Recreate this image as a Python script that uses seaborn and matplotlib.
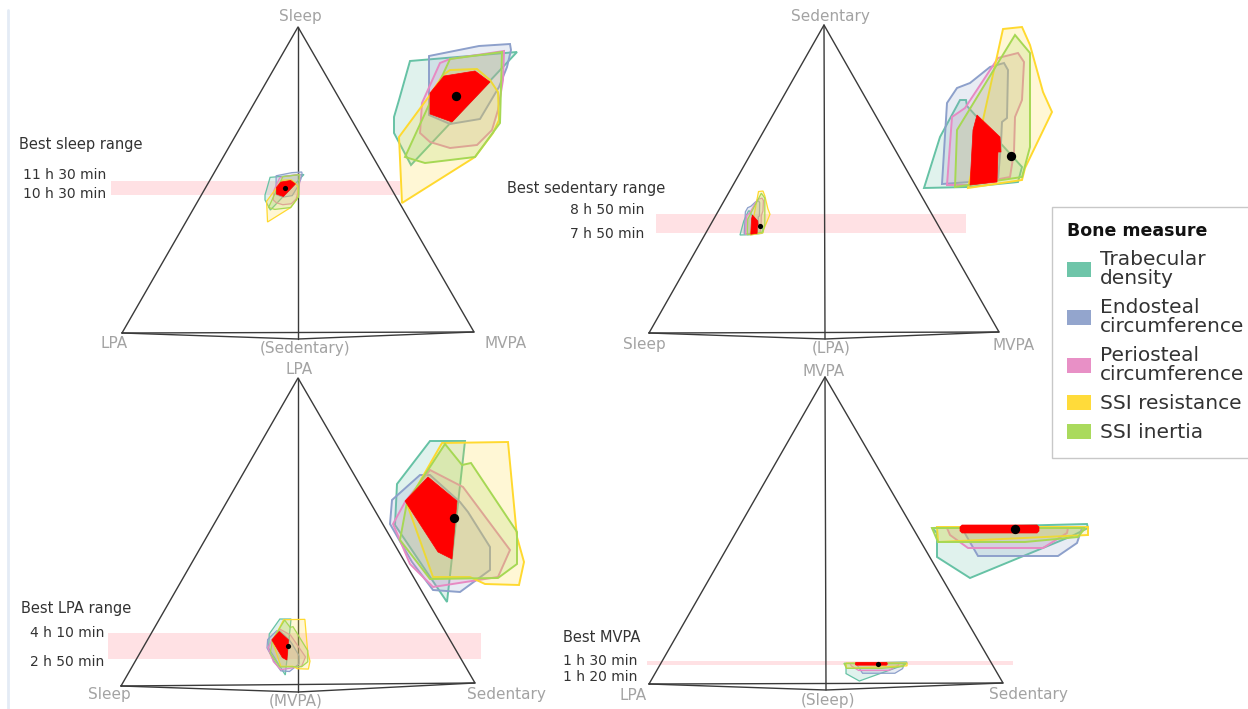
#!/usr/bin/env python3
"""
Four ternary-style panels of bone-measure regions with zoomed insets
"""

import numpy as np
import matplotlib
matplotlib.use("Agg")
import matplotlib.pyplot as plt
from matplotlib.patches import Patch
import seaborn as sns

sns.set_theme(style="white")
plt.rcParams["font.family"] = ["DejaVu Sans"]

W, H = 1248, 709

# ---- data ----
measures = ["Trabecular\ndensity", "Endosteal\ncircumference",
            "Periosteal\ncircumference", "SSI resistance", "SSI inertia"]

# region outlines, in zoomed units around the best point (0, 0), y downwards
# panel 1: sleep
sleep_trabecular = [(-46, -35), (61, -44), (-45, 69), (-62, 37), (-62, 21), (-57, 4)]
sleep_endosteal = [(-27, -40), (23, -50), (54, -52), (55, -46), (51, -29), (43, -9),
                   (24, 23), (-6, 28), (-27, 19)]
sleep_periosteal = [(-16, -33), (-6, -37), (48, -45), (47, -16), (42, 14), (36, 34),
                    (21, 49), (-6, 52), (-26, 46), (-36, 37), (-34, 7)]
sleep_resistance = [(-54, 107), (-57, 41), (-26, -1), (-13, -21), (-6, -26), (21, -27),
                    (34, -16), (42, -4), (43, 24), (37, 37), (19, 61)]
sleep_inertia = [(-6, -37), (46, -44), (44, 27), (19, 61), (-31, 67), (-51, 61)]
sleep_best = [(-26, -3), (-12, -20), (19, -25), (34, -14), (-4, 26), (-26, 18)]

# panel 2: sedentary
sed_trabecular = [(-87, 32), (-71, -19), (-51, -56), (-45, -56), (-44, -50), (11, 11),
                  (7, 26), (-43, 31)]
sed_endosteal = [(-69, 28), (-64, -53), (-54, -68), (-41, -73), (-21, -89), (-7, -93),
                 (-3, -86), (-4, -38), (-9, -34), (-10, -13), (-13, 24)]
sed_periosteal = [(-64, 29), (-59, -39), (-46, -48), (-13, -98), (7, -103), (13, -94),
                  (11, -56), (4, -39), (3, -4), (-1, 21), (-43, 29)]
sed_resistance = [(-43, 32), (-8, -127), (11, -129), (19, -111), (32, -64), (41, -44),
                  (14, 12), (11, 24)]
sed_inertia = [(-56, 31), (-54, -26), (4, -121), (19, -103), (19, -9), (11, 21)]
sed_best = [(-41, 29), (-38, -26), (-34, -41), (-11, -19), (-10, -4), (-13, -4), (-14, 26)]

# panel 3: LPA
lpa_trabecular = [(-24, -77), (11, -77), (-7, 84), (-59, 7), (-57, -34)]
lpa_endosteal = [(-62, -18), (-34, -43), (-24, -43), (6, -16), (14, -6), (36, 29),
                 (36, 52), (6, 74), (-21, 72), (-42, 44), (-64, 6)]
lpa_periosteal = [(-24, -48), (9, -31), (56, 32), (44, 59), (-21, 69), (-44, 46),
                  (-61, 6), (-49, -16)]
lpa_resistance = [(-12, -75), (54, -76), (63, 19), (70, 44), (65, 67), (31, 66),
                  (16, 59), (-21, 59), (-47, -14)]
lpa_inertia = [(-9, -74), (8, -53), (17, -55), (63, 14), (63, 46), (44, 60), (-24, 61),
               (-54, 22), (-47, -16)]
lpa_best = [(-49, -17), (-26, -41), (3, -17), (-2, 41), (-16, 34)]

# panel 4: MVPA
mvpa_trabecular = [(-83, -1), (72, -5), (73, -1), (57, 7), (-45, 49), (-78, 28), (-78, 4)]
mvpa_endosteal = [(-53, -1), (67, -1), (62, 14), (43, 27), (-37, 27), (-48, 8)]
mvpa_periosteal = [(-68, -1), (53, -1), (52, 4), (28, 19), (-47, 19), (-65, 6)]
mvpa_resistance = [(-78, -2), (73, -2), (73, 6), (-77, 13)]
mvpa_inertia = [(-83, -1), (70, -1), (63, 8), (10, 13), (-77, 13)]
mvpa_best = [(-55, -2), (-53, -4), (22, -4), (24, -2), (24, 2), (22, 4), (-53, 4), (-55, 2)]

sleep_labels = ["Sleep", "LPA", "(Sedentary)", "MVPA"]
sed_labels = ["Sedentary", "Sleep", "(LPA)", "MVPA"]
lpa_labels = ["LPA", "Sleep", "(MVPA)", "Sedentary"]
mvpa_labels = ["MVPA", "LPA", "(Sleep)", "Sedentary"]

sleep_range = ["Best sleep range", "11 h 30 min", "10 h 30 min"]
sed_range = ["Best sedentary range", "8 h 50 min", "7 h 50 min"]
lpa_range = ["Best LPA range", "4 h 10 min", "2 h 50 min"]
mvpa_range = ["Best MVPA", "1 h 30 min", "1 h 20 min"]

# ---- layout (pixels) ----
panels = [
    dict(polys=[sleep_trabecular, sleep_endosteal, sleep_periosteal, sleep_resistance, sleep_inertia],
         best=sleep_best, labels=sleep_labels, rng=sleep_range,
         apex=(298, 27), left=(122, 333), right=(474, 332), bottom=(298, 339),
         lab_pos=[(300, 17), (114, 344), (305, 348), (506, 344)],
         band=(111, 181, 400, 195), title_xy=(19, 145), rng_x=106, rng_y=(175, 194),
         inset_at=(456, 96), small=(265, 172, 304, 222)),
    dict(polys=[sed_trabecular, sed_endosteal, sed_periosteal, sed_resistance, sed_inertia],
         best=sed_best, labels=sed_labels, rng=sed_range,
         apex=(824, 25), left=(649, 333), right=(999, 332), bottom=(825, 339),
         lab_pos=[(830, 17), (644, 345), (831, 348), (1014, 345)],
         band=(656, 214, 966, 233), title_xy=(507, 189), rng_x=644, rng_y=(210, 234),
         inset_at=(1011, 156), small=(740, 191, 770, 235)),
    dict(polys=[lpa_trabecular, lpa_endosteal, lpa_periosteal, lpa_resistance, lpa_inertia],
         best=lpa_best, labels=lpa_labels, rng=lpa_range,
         apex=(298, 378), left=(121, 686), right=(475, 683), bottom=(298, 692),
         lab_pos=[(299, 370), (109, 694), (296, 701), (506, 694)],
         band=(108, 633, 481, 659), title_xy=(21, 608), rng_x=104, rng_y=(633, 662),
         inset_at=(454, 518), small=(267, 619, 310, 675)),
    dict(polys=[mvpa_trabecular, mvpa_endosteal, mvpa_periosteal, mvpa_resistance, mvpa_inertia],
         best=mvpa_best, labels=mvpa_labels, rng=mvpa_range,
         apex=(825, 377), left=(649, 684), right=(1003, 683), bottom=(826, 690),
         lab_pos=[(824, 372), (633, 695), (828, 700), (1028, 695)],
         band=(647, 661, 1013, 665), title_xy=(563, 637), rng_x=637, rng_y=(661, 677),
         inset_at=(1015, 529), small=(844, 662, 907, 681)),
]

palette = sns.color_palette("Set2")
measure_colors = [palette[0], palette[2], palette[3], palette[5], palette[4]]
line_col = "#3a3a3a"
axis_lab_col = "#a3a3a3"
text_col = "#333333"


def px_rect(x0, y0, x1, y1):
    return [x0 / W, 1 - y1 / H, (x1 - x0) / W, (y1 - y0) / H]


def draw_cluster(fig, rect, polys, best, lims, lw, dot):
    ax = fig.add_axes(rect)
    ax.set_xlim(lims[0], lims[1])
    ax.set_ylim(lims[3], lims[2])
    ax.set_axis_off()
    for verts, c in zip(polys, measure_colors):
        v = np.array(verts, dtype=float)
        ax.fill(v[:, 0], v[:, 1], facecolor=(*c, 0.2), edgecolor=c, lw=lw, clip_on=False)
    b = np.array(best, dtype=float)
    ax.fill(b[:, 0], b[:, 1], facecolor="red", edgecolor="red", lw=0.5,
            clip_on=False, zorder=4)
    sns.scatterplot(x=[0], y=[0], color="black", s=dot, linewidth=0, ax=ax,
                    legend=False, zorder=5, clip_on=False)
    return ax


fig = plt.figure(figsize=(W / 100, H / 100), dpi=100)
fig.patch.set_facecolor("white")
main = fig.add_axes([0, 0, 1, 1])
main.set_xlim(0, W)
main.set_ylim(H, 0)
main.set_axis_off()

main.plot([8, 8], [10, H], color="#e4ebf5", lw=2)

for p in panels:
    ax_, ay = p["apex"]
    lx, ly = p["left"]
    rx, ry = p["right"]
    bx, by = p["bottom"]
    bx0, by0, bx1, by1 = p["band"]
    main.fill([bx0, bx1, bx1, bx0], [by0, by0, by1, by1], color="#ffe1e4", lw=0, zorder=1)
    main.plot([lx, ax_, rx, lx], [ly, ay, ry, ly], color=line_col, lw=1.0, zorder=2)
    main.plot([ax_, bx], [ay, by], color=line_col, lw=1.0, zorder=2)
    main.plot([lx, bx, rx], [ly, by, ry], color=line_col, lw=1.0, zorder=2)

    for lab, (tx, ty) in zip(p["labels"], p["lab_pos"]):
        main.text(tx, ty, lab, ha="center", va="center", fontsize=11, color=axis_lab_col)

    tx, ty = p["title_xy"]
    main.text(tx, ty, p["rng"][0], ha="left", va="center", fontsize=10.5, color=text_col)
    main.text(p["rng_x"], p["rng_y"][0], p["rng"][1], ha="right", va="center", fontsize=10, color=text_col)
    main.text(p["rng_x"], p["rng_y"][1], p["rng"][2], ha="right", va="center", fontsize=10, color=text_col)

    allv = np.array([v for poly in p["polys"] + [p["best"]] for v in poly], dtype=float)
    lims = (allv[:, 0].min(), allv[:, 0].max(), allv[:, 1].min(), allv[:, 1].max())

    # small cluster inside the triangle
    draw_cluster(fig, px_rect(*p["small"]), p["polys"], p["best"], lims, 0.9, 14)
    # zoomed inset
    ix, iy = p["inset_at"]
    draw_cluster(fig, px_rect(ix + lims[0], iy + lims[2], ix + lims[1], iy + lims[3]),
                 p["polys"], p["best"], lims, 1.4, 45)

handles = [Patch(facecolor=c, edgecolor="none", alpha=0.95) for c in measure_colors]
leg = fig.legend(handles, measures, title="Bone measure", loc="upper left",
                 bbox_to_anchor=(1052 / W, 1 - 207 / H), frameon=True, fancybox=False,
                 edgecolor="#bbbbbb", fontsize=14.5, alignment="left",
                 title_fontproperties={"weight": "bold", "size": 12.5},
                 handlelength=1.2, handleheight=0.75, labelspacing=0.5,
                 borderpad=0.75, borderaxespad=0, handletextpad=0.45)
leg.get_frame().set_linewidth(1.0)
for t in leg.get_texts():
    t.set_color(text_col)
    t.set_linespacing(1.0)
leg.get_title().set_color("#111111")

fig.savefig("out.png", dpi=100)
plt.close(fig)
